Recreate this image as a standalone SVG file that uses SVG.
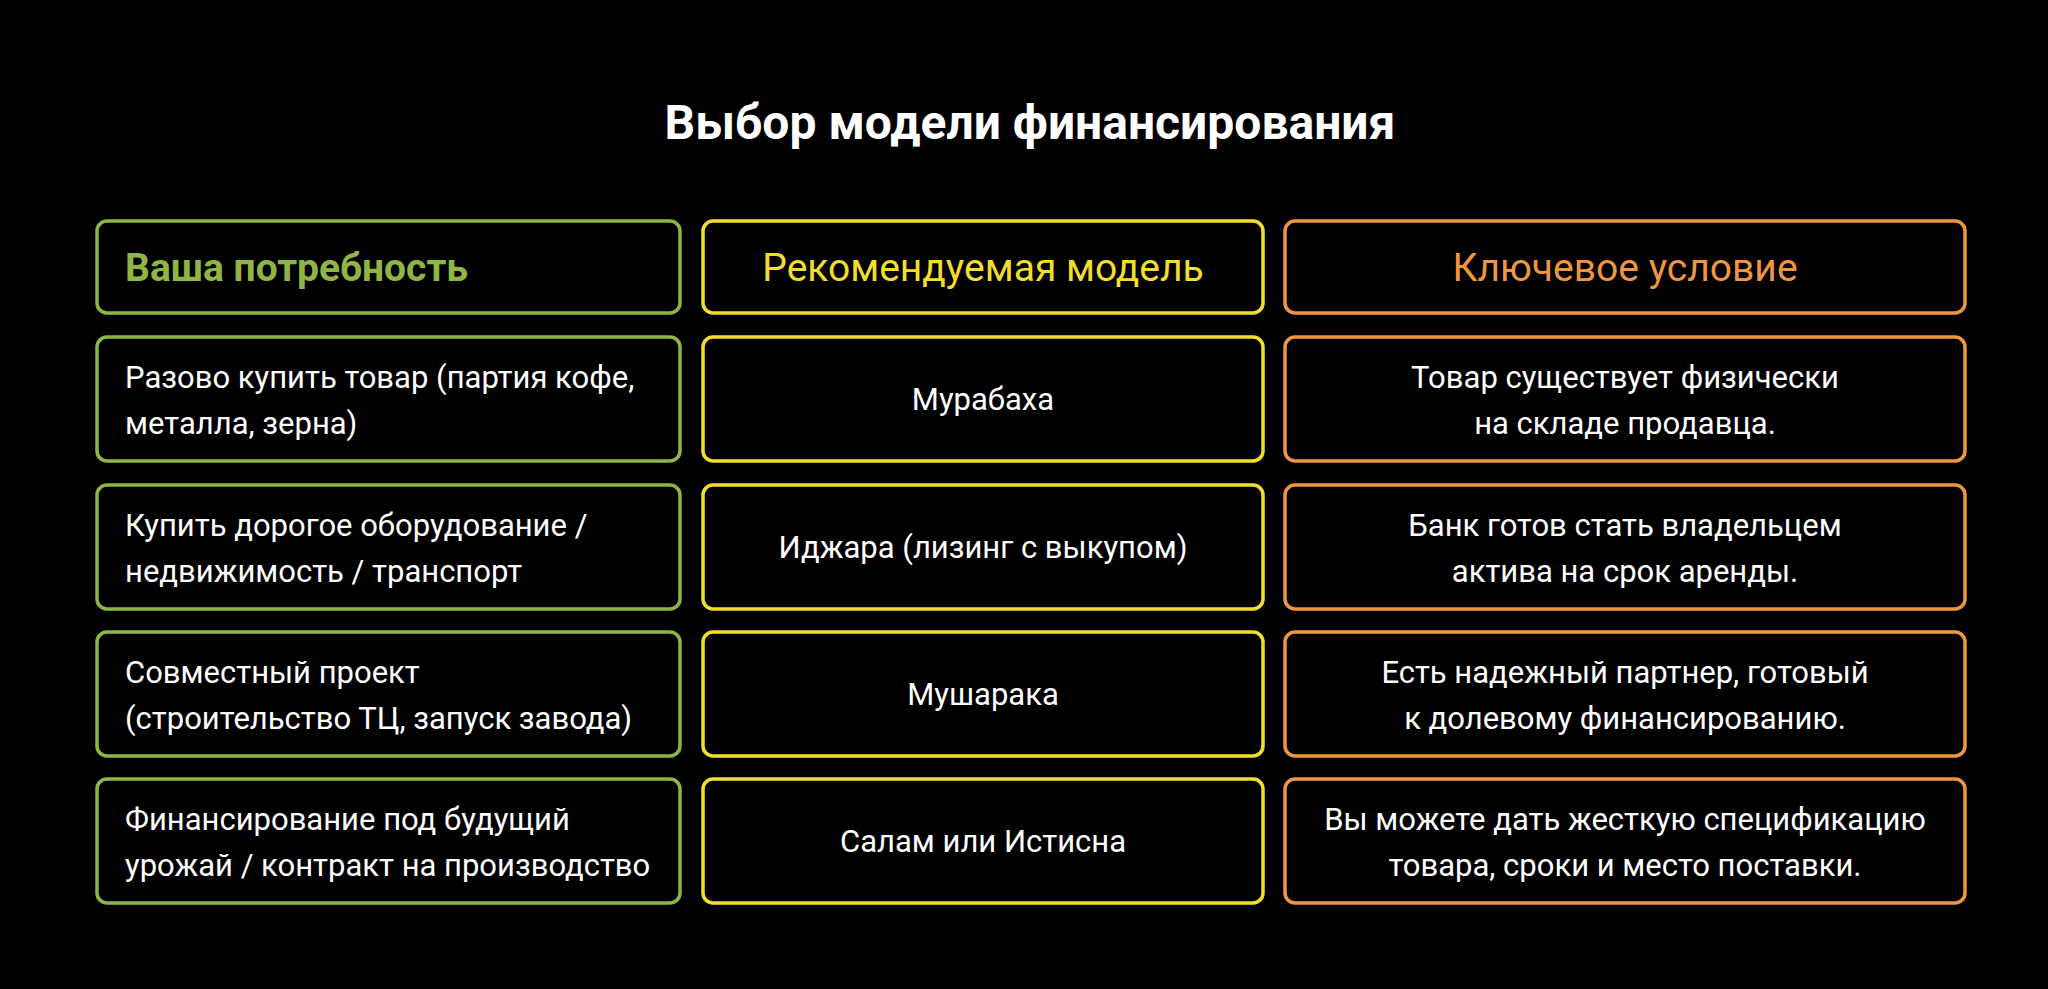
<svg xmlns="http://www.w3.org/2000/svg" width="2048" height="989" viewBox="0 0 2048 989">
<style>
text{font-family:Roboto,"Liberation Sans",sans-serif;fill:#fff;font-size:31px}
.b{fill:#000;stroke-width:3.5}
.g{stroke:#8fb545}.y{stroke:#f3df2a}.o{stroke:#ee9640}
.h{font-size:39px}
.c{text-anchor:middle}
</style>
<rect width="2048" height="989" fill="#000"/>
<text x="1030" y="139" class="c" style="font-size:48px;font-weight:bold">Выбор модели финансирования</text>
<g id="h1"><rect class="b g" x="97" y="221" width="583" height="92" rx="10"/><text x="125" y="281" class="h" style="fill:#8fb545;font-weight:bold">Ваша потребность</text></g>
<g id="h2"><rect class="b y" x="703" y="221" width="560" height="92" rx="10"/><text x="983" y="281" class="h c" style="fill:#f3df2a">Рекомендуемая модель</text></g>
<g id="h3"><rect class="b o" x="1285" y="221" width="680" height="92" rx="10"/><text x="1625" y="281" class="h c" style="fill:#ee9640">Ключевое условие</text></g>

<g id="r1c1"><rect class="b g" x="97" y="337" width="583" height="124" rx="10"/><text x="125" y="388">Разово купить товар (партия кофе,</text><text x="125" y="434">металла, зерна)</text></g>
<g id="r1c2"><rect class="b y" x="703" y="337" width="560" height="124" rx="10"/><text x="983" y="410" class="c">Мурабаха</text></g>
<g id="r1c3"><rect class="b o" x="1285" y="337" width="680" height="124" rx="10"/><text x="1625" y="388" class="c">Товар существует физически</text><text x="1625" y="434" class="c">на складе продавца.</text></g>

<g id="r2c1"><rect class="b g" x="97" y="485" width="583" height="124" rx="10"/><text x="125" y="536">Купить дорогое оборудование /</text><text x="125" y="582">недвижимость / транспорт</text></g>
<g id="r2c2"><rect class="b y" x="703" y="485" width="560" height="124" rx="10"/><text x="983" y="558" class="c">Иджара (лизинг с выкупом)</text></g>
<g id="r2c3"><rect class="b o" x="1285" y="485" width="680" height="124" rx="10"/><text x="1625" y="536" class="c">Банк готов стать владельцем</text><text x="1625" y="582" class="c">актива на срок аренды.</text></g>

<g id="r3c1"><rect class="b g" x="97" y="632" width="583" height="124" rx="10"/><text x="125" y="683">Совместный проект</text><text x="125" y="729">(строительство ТЦ, запуск завода)</text></g>
<g id="r3c2"><rect class="b y" x="703" y="632" width="560" height="124" rx="10"/><text x="983" y="705" class="c">Мушарака</text></g>
<g id="r3c3"><rect class="b o" x="1285" y="632" width="680" height="124" rx="10"/><text x="1625" y="683" class="c">Есть надежный партнер, готовый</text><text x="1625" y="729" class="c">к долевому финансированию.</text></g>

<g id="r4c1"><rect class="b g" x="97" y="779" width="583" height="124" rx="10"/><text x="125" y="830">Финансирование под будущий</text><text x="125" y="876">урожай / контракт на производство</text></g>
<g id="r4c2"><rect class="b y" x="703" y="779" width="560" height="124" rx="10"/><text x="983" y="852" class="c">Салам или Истисна</text></g>
<g id="r4c3"><rect class="b o" x="1285" y="779" width="680" height="124" rx="10"/><text x="1625" y="830" class="c">Вы можете дать жесткую спецификацию</text><text x="1625" y="876" class="c">товара, сроки и место поставки.</text></g>
<g id="connectors"/>
</svg>
